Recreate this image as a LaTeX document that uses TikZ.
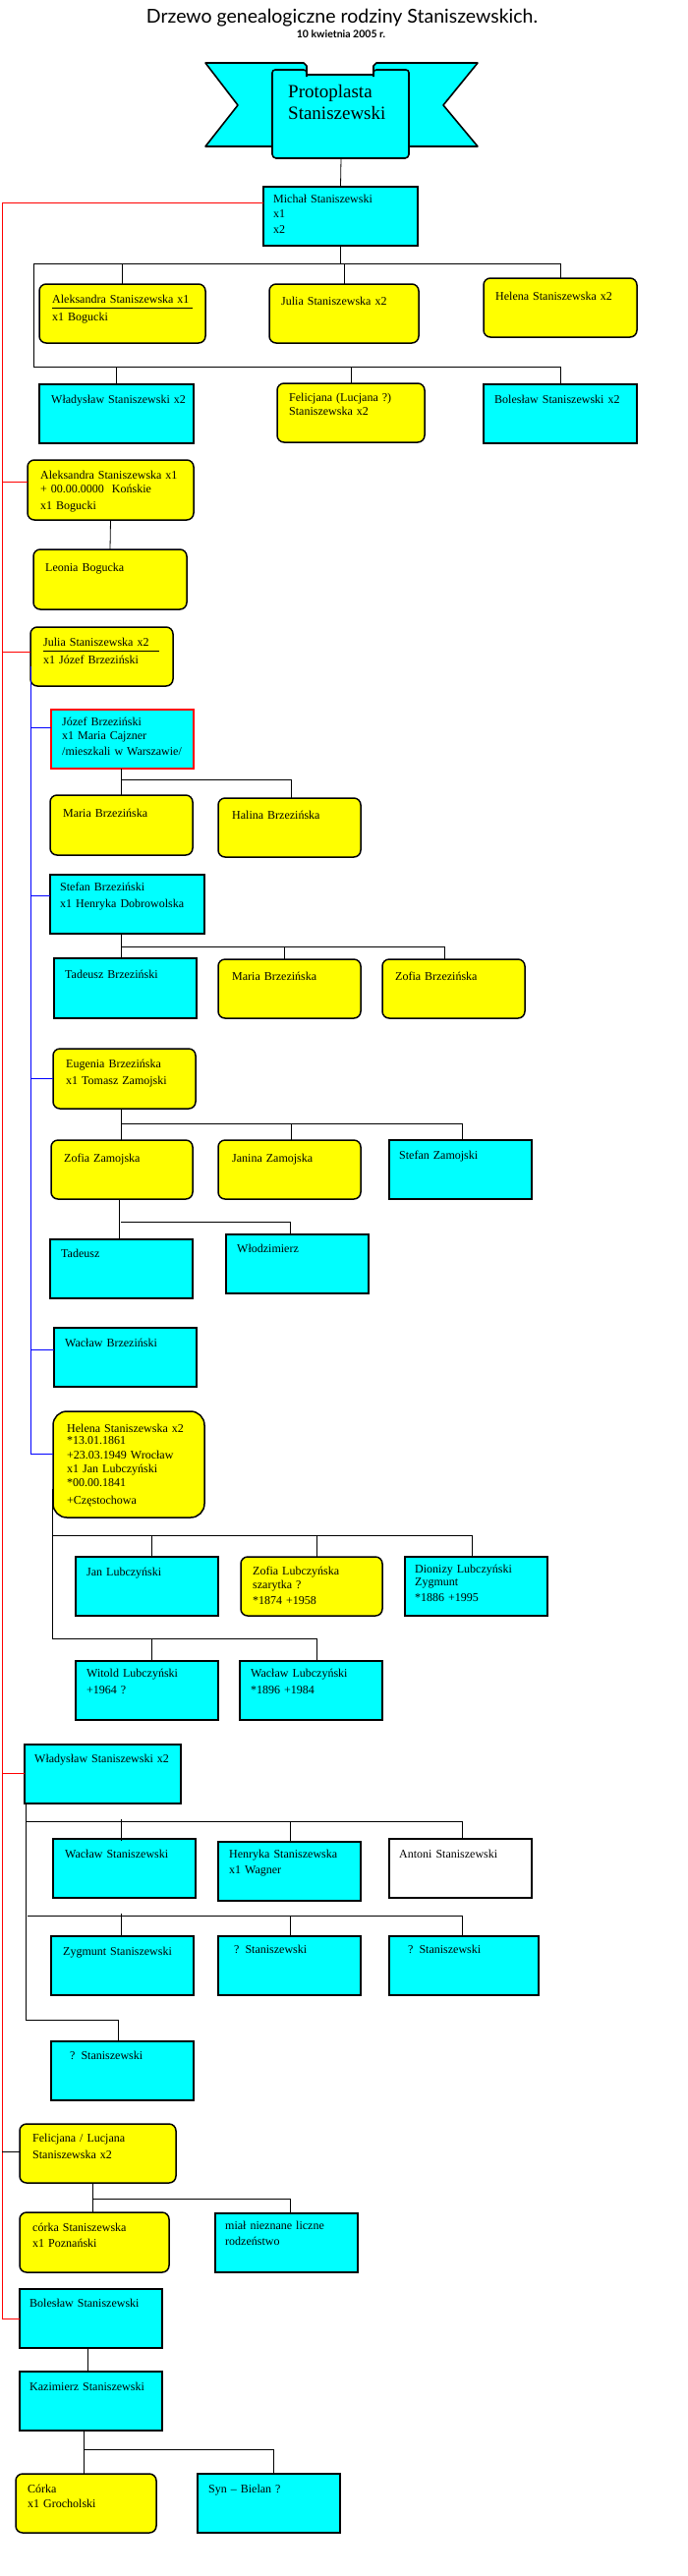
\documentclass[tikz,border=0pt]{standalone}
\usepackage{fontspec}
\setmainfont{Liberation Serif}
\newfontfamily\titlefont{Lato}
\definecolor{cyanC}{HTML}{00FFFF}
\definecolor{yelC}{HTML}{FFFF00}
\definecolor{redC}{HTML}{FF0000}
\definecolor{blueC}{HTML}{0000FF}
\tikzset{
 boxbase/.style={draw=black, line width=1.5pt, inner sep=0pt, outer sep=0pt, rectangle},
 cbox/.style={boxbase, fill=cyanC},
 ybox/.style={boxbase, rounded corners=7pt, fill=yelC},
 hbox/.style={boxbase, rounded corners=14pt, fill=yelC},
 wbox/.style={boxbase, fill=white},
 rbox/.style={boxbase, draw=redC, fill=cyanC},
 txt/.style={anchor=base west, inner sep=0pt, text width=200pt, align=left, font=\fontsize{12}{16}\selectfont},
 conn/.style={line width=0.8pt, black},
 rline/.style={line width=0.9pt, redC},
 bline/.style={line width=0.9pt, blueC},
 banner/.style={draw=black, line width=1.6pt, fill=cyanC, line join=round},
}
\newcommand\famnode[6]{\node[#1, anchor=north west, minimum width={#4-#2}, minimum height={#5-#3}] (#6) at (#2,#3) {};}
\begin{document}
\begin{tikzpicture}[x=1pt,y=-1pt]
\fill[white] (0,0) rectangle (700,2621);
\useasboundingbox (0,0) rectangle (700,2621);
% title
\node[anchor=base, inner sep=0pt, font=\titlefont\fontsize{19.5}{22}\selectfont] (title) at (348,23) {Drzewo genealogiczne rodziny Staniszewskich.};
\node[anchor=base, inner sep=0pt, font=\titlefont\bfseries\fontsize{10.5}{12}\selectfont] (date) at (347,38) {10 kwietnia 2005 r.};
% banner
\draw[banner] (209,64) -- (309,64) -- (312,67) -- (312,149) -- (209,149) -- (242,107) -- cycle;
\draw[banner] (486,64) -- (383,64) -- (380,67) -- (380,149) -- (486,149) -- (451,107) -- cycle;
\draw[banner] (277,76) [rounded corners=4pt] -- (277,161) -- (416,161) [sharp corners] -- (416,76) -- cycle;
\draw[banner, rounded corners=3pt] (277,78) -- (277,71) -- (312,71) -- (312,78);
\draw[banner, rounded corners=3pt] (380,78) -- (380,71) -- (416,71) -- (416,78);
\node[anchor=base west, inner sep=0pt, text width=120pt, align=left, font=\fontsize{19}{22}\selectfont] (proto) at (293,99) {Protoplasta\\Staniszewski};
\coordinate (protoB) at (347,161);
% boxes
\famnode{cbox}{268}{190}{425}{250}{mich}
\famnode{ybox}{40}{289}{209}{349}{aleksA}
\famnode{ybox}{274}{289}{426}{349}{juliaA}
\famnode{ybox}{492}{283}{648}{343}{helenaA}
\famnode{cbox}{40}{391}{197}{451}{wladA}
\famnode{ybox}{282}{390}{432}{450}{felA}
\famnode{cbox}{492}{391}{648}{451}{bolA}
\famnode{ybox}{28}{468}{197}{529}{aleks}
\famnode{ybox}{34}{559}{190}{620}{leonia}
\famnode{ybox}{31}{638}{176}{698}{julia}
\famnode{rbox}{52}{722}{197}{782}{jozef}
\famnode{ybox}{51}{809}{196}{870}{mariaB}
\famnode{ybox}{222}{812}{367}{872}{halina}
\famnode{cbox}{51}{890}{208}{950}{stefan}
\famnode{cbox}{55}{975}{200}{1036}{tadB}
\famnode{ybox}{222}{976}{367}{1036}{mariaBb}
\famnode{ybox}{389}{976}{534}{1036}{zofiaB}
\famnode{ybox}{54}{1067}{199}{1128}{eugenia}
\famnode{ybox}{52}{1160}{196}{1220}{zofiaZ}
\famnode{ybox}{222}{1160}{367}{1220}{janina}
\famnode{cbox}{396}{1160}{541}{1220}{stefanZ}
\famnode{cbox}{51}{1261}{196}{1321}{tadeusz}
\famnode{cbox}{230}{1256}{375}{1316}{wlodz}
\famnode{cbox}{55}{1351}{200}{1411}{waclawB}
\famnode{hbox}{54}{1436}{208}{1544}{helena}
\famnode{cbox}{77}{1584}{222}{1644}{jan}
\famnode{ybox}{245}{1584}{389}{1644}{zofiaL}
\famnode{cbox}{412}{1584}{557}{1644}{dionizy}
\famnode{cbox}{77}{1690}{222}{1750}{witold}
\famnode{cbox}{244}{1690}{389}{1750}{waclawL}
\famnode{cbox}{25}{1775}{184}{1835}{wlad}
\famnode{cbox}{54}{1871}{199}{1931}{waclawS}
\famnode{cbox}{222}{1874}{367}{1934}{henryka}
\famnode{wbox}{396}{1871}{541}{1931}{antoni}
\famnode{cbox}{52}{1970}{197}{2030}{zygmunt}
\famnode{cbox}{222}{1970}{367}{2030}{qa}
\famnode{cbox}{396}{1970}{548}{2030}{qb}
\famnode{cbox}{52}{2077}{197}{2137}{qc}
\famnode{ybox}{20}{2161}{179}{2221}{fel}
\famnode{ybox}{20}{2251}{172}{2312}{corka}
\famnode{cbox}{219}{2252}{364}{2312}{mial}
\famnode{cbox}{20}{2329}{165}{2389}{bol}
\famnode{cbox}{20}{2413}{165}{2473}{kaz}
\famnode{ybox}{16}{2517}{159}{2577}{corkab}
\famnode{cbox}{201}{2517}{346}{2577}{syn}
% texts
\node[txt] (michT) at (278,206) {Michał Staniszewski\\[-1pt]x1\\x2};
\node[txt] (aleksAT) at (53,308) {Aleksandra Staniszewska x1\\[2pt]x1 Bogucki};
\draw[line width=0.8pt] (53,313) -- (196,313);
\node[txt] (juliaAT) at (286,310) {Julia Staniszewska x2};
\node[txt] (helenaAT) at (504,305) {Helena Staniszewska x2};
\node[txt] (wladAT) at (52,410) {Władysław Staniszewski x2};
\node[txt] (felAT) at (294,408) {Felicjana (Lucjana ?)\\[-2pt]Staniszewska x2};
\node[txt] (bolAT) at (503,410) {Bolesław Staniszewski x2};
\node[txt] (aleksT) at (41,487) {Aleksandra Staniszewska x1\\[-2pt]+ 00.00.0000~~Końskie\\[1pt]x1 Bogucki};
\node[txt] (leoniaT) at (46,581) {Leonia Bogucka};
\node[txt] (juliaT) at (44,657) {Julia Staniszewska x2\\[2pt]x1 Józef Brzeziński};
\draw[line width=0.8pt] (44,662) -- (162,662);
\node[txt] (jozefT) at (63,738) {Józef Brzeziński\\[-2pt]x1 Maria Cajzner\\/mieszkali w Warszawie/};
\node[txt] (mariaBT) at (64,831) {Maria Brzezińska};
\node[txt] (halinaT) at (236,833) {Halina Brzezińska};
\node[txt] (stefanT) at (61,906) {Stefan Brzeziński\\[1pt]x1 Henryka Dobrowolska};
\node[txt] (tadBT) at (66,995) {Tadeusz Brzeziński};
\node[txt] (mariaBbT) at (236,997) {Maria Brzezińska};
\node[txt] (zofiaBT) at (402,997) {Zofia Brzezińska};
\node[txt] (eugeniaT) at (67,1086) {Eugenia Brzezińska\\[1pt]x1 Tomasz Zamojski};
\node[txt] (zofiaZT) at (65,1182) {Zofia Zamojska};
\node[txt] (janinaT) at (236,1182) {Janina Zamojska};
\node[txt] (stefanZT) at (406,1179) {Stefan Zamojski};
\node[txt] (tadeuszT) at (62,1279) {Tadeusz};
\node[txt] (wlodzT) at (241,1274) {Włodzimierz};
\node[txt] (waclawBT) at (66,1370) {Wacław Brzeziński};
\node[txt, font=\fontsize{12}{14}\selectfont] (helenaT) at (68,1457) {Helena Staniszewska x2\\[-2pt]{*}13.01.1861\\[1pt]+23.03.1949 Wrocław\\x1 Jan Lubczyński\\{*}00.00.1841\\[4pt]+Częstochowa};
\node[txt] (janT) at (88,1603) {Jan Lubczyński};
\node[txt] (zofiaLT) at (257,1602) {Zofia Lubczyńska\\[-2pt]szarytka ?\\{*}1874 +1958};
\node[txt] (dionizyT) at (422,1600) {Dionizy Lubczyński\\[-3pt]Zygmunt\\{*}1886 +1995};
\node[txt] (witoldT) at (88,1706) {Witold Lubczyński\\[1pt]+1964 ?};
\node[txt] (waclawLT) at (255,1706) {Wacław Lubczyński\\[1pt]{*}1896 +1984};
\node[txt] (wladT) at (35,1793) {Władysław Staniszewski x2};
\node[txt] (waclawST) at (66,1890) {Wacław Staniszewski};
\node[txt] (henrykaT) at (233,1890) {Henryka Staniszewska\\x1 Wagner};
\node[txt] (antoniT) at (406,1890) {Antoni Staniszewski};
\node[txt] (zygmuntT) at (64,1989) {Zygmunt Staniszewski};
\node[txt] (qaT) at (238,1987) {? Staniszewski};
\node[txt] (qbT) at (415,1987) {? Staniszewski};
\node[txt] (qcT) at (71,2095) {? Staniszewski};
\node[txt] (felT) at (33,2179) {Felicjana / Lucjana\\[1pt]Staniszewska x2};
\node[txt] (corkaT) at (33,2270) {córka Staniszewska\\x1 Poznański};
\node[txt] (mialT) at (229,2268) {miał nieznane liczne\\rodzeństwo};
\node[txt] (bolT) at (30,2347) {Bolesław Staniszewski};
\node[txt] (kazT) at (30,2432) {Kazimierz Staniszewski};
\node[txt] (corkabT) at (28,2536) {Córka\\[-1pt]x1 Grocholski};
\node[txt] (synT) at (212,2536) {Syn – Bielan ?};
% connectors: first generation
\draw[conn] (protoB) -- (mich.north);
\coordinate (busA) at (34,268);
\coordinate (busB) at (34,373);
\draw[conn] (mich.south) -- (mich.south |- busA);
\draw[conn] (busA) -- (helenaA.north |- busA);
\draw[conn] (aleksA.north) -- (aleksA.north |- busA);
\draw[conn] (juliaA.north) -- (juliaA.north |- busA);
\draw[conn] (helenaA.north) -- (helenaA.north |- busA);
\draw[conn] (busA) -- (busB) -- (bolA.north |- busB);
\draw[conn] (wladA.north) -- (wladA.north |- busB);
\draw[conn] (felA.north) -- (felA.north |- busB);
\draw[conn] (bolA.north) -- (bolA.north |- busB);
% red trunk
\coordinate (redTop) at (2,206);
\coordinate (redBot) at (2,2359);
\draw[rline] (mich.west |- redTop) -- (redTop) -- (redBot) -- (bol.west);
\draw[rline] (2,490) -- (aleks.west |- 0,490);
\draw[rline] (2,663) -- (julia.west |- 0,663);
\draw[rline] (2,1804) -- (wlad.west |- 0,1804);
\draw[conn] (2,2189) -- (fel.west |- 0,2189);
% Aleksandra
\draw[conn] (aleks.south) -- (leonia.north);
% Julia: blue trunk
\coordinate (blueTop) at (31,678);
\coordinate (blueBot) at (31,1479);
\draw[bline] (blueTop) -- (blueBot) -- (helena.west |- blueBot);
\draw[bline] (31,740) -- (jozef.west |- 0,740);
\draw[bline] (31,911) -- (stefan.west |- 0,911);
\draw[bline] (31,1097) -- (eugenia.west |- 0,1097);
\draw[bline] (31,1373) -- (waclawB.west |- 0,1373);
% Jozef
\draw[conn] (jozef.south -| 123,0) -- (mariaB.north -| 123,0);
\draw[conn] (123,793) -- (296,793) -- (halina.north -| 296,0);
% Stefan
\draw[conn] (stefan.south -| 123,0) -- (tadB.north -| 123,0);
\draw[conn] (123,963) -- (452,963) -- (zofiaB.north -| 452,0);
\draw[conn] (289,963) -- (mariaBb.north -| 289,0);
% Eugenia
\draw[conn] (eugenia.south -| 123,0) -- (zofiaZ.north -| 123,0);
\draw[conn] (123,1143) -- (470,1143) -- (stefanZ.north -| 470,0);
\draw[conn] (296,1143) -- (janina.north -| 296,0);
% Zofia Zamojska
\draw[conn] (zofiaZ.south -| 121,0) -- (121,1262);
\draw[conn] (123,1243) -- (295,1243) -- (wlodz.north -| 295,0);
% Helena
\draw[conn] (53,1515) -- (53,1667);
\draw[conn] (53,1562) -- (480,1562) -- (dionizy.north -| 480,0);
\draw[conn] (154,1562) -- (jan.north -| 154,0);
\draw[conn] (322,1562) -- (zofiaL.north -| 322,0);
\draw[conn] (53,1667) -- (322,1667) -- (waclawL.north -| 322,0);
\draw[conn] (154,1667) -- (witold.north -| 154,0);
% Wladyslaw
\draw[conn] (wlad.south -| 26,0) -- (26,2055) -- (120,2055) -- (qc.north -| 120,0);
\draw[conn] (27,1853) -- (470,1853) -- (antoni.north -| 470,0);
\draw[conn] (123,1851) -- (123,1873);
\draw[conn] (295,1853) -- (henryka.north -| 295,0);
\draw[conn] (28,1949) -- (470,1949) -- (qb.north -| 470,0);
\draw[conn] (123,1947) -- (zygmunt.north -| 123,0);
\draw[conn] (295,1949) -- (qa.north -| 295,0);
% Felicjana
\draw[conn] (fel.south -| 94,0) -- (corka.north -| 94,0);
\draw[conn] (94,2237) -- (295,2237) -- (mial.north -| 295,0);
% Boleslaw
\draw[conn] (bol.south -| 89,0) -- (kaz.north -| 89,0);
\draw[conn] (kaz.south -| 85,0) -- (corkab.north -| 85,0);
\draw[conn] (85,2492) -- (278,2492) -- (syn.north -| 278,0);
\end{tikzpicture}
\end{document}
